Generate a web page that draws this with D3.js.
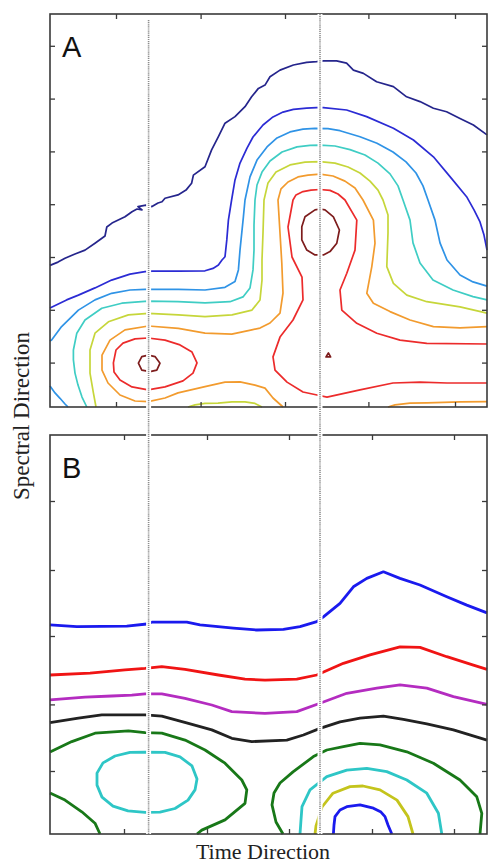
<!DOCTYPE html>
<html>
<head>
<meta charset="utf-8">
<script src="https://cdn.jsdelivr.net/npm/d3@7"></script>
<style>
  html, body { margin: 0; padding: 0; background: #fff; }
  svg { display: block; }
</style>
</head>
<body>
<svg id="chart"></svg>
<script>
// contour lines, as [time sample, spectral bin]

// ---- panel A ----
const navyA = [[0,47.2],[4,48.3],[7.5,49.6],[12.5,51],[17.5,52.3],[22.5,54.6],[27.5,57],[28.4,60],[31,61.3],[37.5,63.4],[41,65.1],[43.5,66],[46,65.7],[44,66.8],[48,67.3],[51,66.8],[54,68],[56,68.4],[57.5,69.6],[64,70.7],[68,72.3],[70.8,74.6],[71.7,77.3],[77.5,80.1],[80.8,85.7],[84.2,90.1],[87.5,94.6],[92.5,96.8],[97.5,100.1],[100.8,103.4],[104.2,106.2],[107.5,107.3],[110,110.1],[115,112.3],[121.7,114],[128.3,114.9],[133.3,115.1],[136.7,115.4],[143.3,115.4],[148.3,114.6],[151.7,112.3],[156.7,111.2],[163.3,108.4],[171.7,106.8],[178.3,103.4],[185,101.8],[191.7,99.6],[198.3,98.4],[205,96.2],[211.7,94],[218.5,90.7]];
const blueA = [[0,33],[8.3,35.7],[14.2,37.3],[22.5,39.7],[30.8,42.3],[40,44.3],[47.5,45.1],[51,45.3],[64.2,45.3],[77.5,45.4],[81.5,46.2],[84.2,47.3],[86,49],[87.5,50.1],[88.4,55.7],[89.2,62.3],[90.8,69],[92.5,75.7],[95,81.3],[98.5,86.3],[101.5,90],[106.5,94],[111.5,96.7],[116.5,98.3],[121.7,99.2],[128.3,99.6],[133.3,99.8],[136.7,99.8],[148.3,99],[158.3,96.8],[171.7,92.9],[181.7,89],[191.7,83.4],[200,76.8],[208.3,70.1],[212,65.7],[215,61.7],[217,57.3],[218.5,52.3]];
const skyA = [[0,22],[0.8,22.3],[5.8,26.8],[14.2,32.3],[22.5,35.7],[30.8,37.9],[40,39],[47.5,39.2],[64.2,39.2],[77.5,39],[87.5,39.9],[92.5,41.8],[94.2,45.7],[95,52.3],[96.7,63.4],[97.5,69],[100,76.7],[103.5,82.3],[108.5,86.7],[113.5,89.7],[120,91.7],[126.5,92.6],[132.5,92.9],[139,92.8],[145,92.1],[155,90.1],[163.5,87.9],[171.5,85],[178,81.7],[183,78],[186.5,73.7],[189,69],[192.5,62.3],[195,54.7],[198.5,49],[205,44],[211.5,41.7],[218.5,40.3]];
const skyCornerA = [[0,7],[2.5,4.7],[5,2.9],[7.5,1],[9,0]];
const cyanA = [[18.4,0],[16,3.3],[14,7.3],[12.5,11.3],[11.7,15.7],[11.7,19],[13.4,24.6],[17.5,29],[25.9,32.9],[35.9,34.6],[49,35.3],[64,35.1],[77.5,34.7],[90,35.1],[96.5,36.7],[100,39.7],[101.5,45.7],[102,52.3],[102,60.7],[102.5,69],[103.5,74],[106,78.3],[110,82],[116,85],[123.5,86.7],[130,87.2],[135,87.3],[142.5,87],[150,85.8],[157.5,84],[164,81.3],[170,77.7],[174,73.7],[176.5,69],[180,62.3],[181.5,54.7],[185,48],[191.5,42.3],[201.5,39],[211.5,36.8],[218.5,35.7]];
const yellowA = [[23,0],[21.7,4.7],[20,11.3],[20,19],[22.5,24.6],[29.2,28.4],[39.2,30.7],[49.2,31.2],[64.2,30.7],[77.5,30.1],[91,30.7],[101,32.3],[105,35.7],[106,42.3],[106,49],[106.5,58],[107,69],[109,74.7],[113,78.3],[120,80.7],[127.5,81.6],[135,81.8],[142.5,81.3],[149,80],[155,78],[160,75.3],[164,72.3],[166.5,69],[169,64],[169,58],[168.4,46.8],[171.7,41.2],[178.4,37.3],[188.4,35.1],[205,33.4],[218.5,31.3]];
const yellowBottomA = [[69,0],[72.5,0.7],[77.5,1.2],[84,1.3],[91,1.7],[97.5,1.7],[102.5,1.2],[106,0]];
const orangeA = [[218.5,26.8],[205,26.4],[191.7,26.8],[180,29],[170,31.8],[161.7,34.6],[158.4,37.9],[160.9,46.8],[162.5,54.6],[161.7,62.3],[156.5,69],[152.5,73],[147.5,75.3],[141.5,77],[135,77.6],[129,77.3],[124,76.7],[119,75],[115.5,72.7],[114,69],[115,58],[115.9,48],[116.5,38],[115,31.3],[110,28],[105,26.3],[100.9,25.7],[90.9,24.3],[77.5,24.6],[64.2,26.2],[49.2,27],[37.5,25.7],[30,22.3],[26,17.3],[26,12.3],[29,8],[35,4],[42.5,2],[49.2,1.8],[57.5,3],[64,4.7],[77.5,6.8],[87.5,8.3],[95,8.4],[102.5,7.3],[107.5,6.3],[111.5,3],[116.5,0]];
const orangeBottomA = [[169,0],[172.5,0.7],[180,1.3],[188.5,1.4],[205,1.7],[218.5,1.8]];
const redA = [[218.5,21],[188.4,21.2],[175,22.3],[163.4,24.6],[153.4,27.9],[145.9,32.3],[145,39],[148.4,44.6],[152.5,52.3],[153.4,62.3],[147.5,69],[144,71],[140,72.2],[135,72.5],[130.5,72.3],[126.5,71.8],[123,70.7],[121.5,69],[119,60],[121,50],[126,43.3],[126.5,35.7],[121.5,29],[115,23.3],[111.5,16.7],[112.5,12.3],[118.5,8.3],[126.5,5],[133.5,4],[138.5,3.3],[155,5.7],[171.5,8],[185,8.3],[198.5,8],[218.5,8]];
const redLoopA = [[31.7,14.7],[33,19],[36.5,21.3],[42.5,22.7],[49,23],[57.5,22.3],[65,20.7],[71,18.3],[73.5,14.7],[71.5,11.3],[66.5,8.7],[57.5,6.7],[49,5.7],[41,6.7],[35,9],[32,11.7]];
const maroonLeftA = [[44.2,14.6],[45.9,16.8],[49.2,17.3],[52.5,16.8],[55,14.6],[53.4,12.3],[50,11.8],[45.9,12.3]];
const maroonRightA = [[135,66],[137.5,65.7],[141.7,63.4],[144.7,59],[143.4,54.6],[140,51.8],[136.7,50.7],[132.5,50.7],[128.4,52.3],[125.9,55.7],[125.9,60.1],[127.5,63.4],[132.5,65.7]];
const maroonDotA = [[138,16.7],[139.2,18],[140.3,16.7]];

// ---- panel B ----
const blueTopB = [[0,69.7],[13.4,69.1],[38.4,69.3],[48.4,70],[50.9,70.6],[68.4,70.6],[75,69.7],[91.7,68.6],[103.4,68],[116.7,68.2],[125,69.1],[133.4,70.8],[136.7,72.4],[145,76.9],[151.7,82.4],[158.4,85.2],[166.7,87.4],[175,85.2],[185,83],[198.4,79.1],[208.4,76.3],[218.5,73.7]];
const redB = [[0,53],[20,53.6],[37.5,54.7],[47.5,55.2],[55.9,55.8],[67.5,54.9],[84.2,53],[97.5,51.6],[107.5,51.3],[123.4,51.6],[133.4,53],[146.7,56.9],[160,59.7],[175,62.4],[185,62.2],[198.4,59.1],[211.7,56.3],[218.5,54.9]];
const magentaB = [[0,44.7],[17.5,45.6],[30.9,46],[40.9,46.3],[47.5,46.7],[55.9,46.7],[67.5,45.2],[80.9,43],[90.9,40.8],[107.5,40.2],[123.4,40.8],[135,43.6],[148.4,46.9],[163.4,48.6],[175,49.7],[188.4,48.6],[201.7,45.8],[218.5,43.2]];
const blackB = [[0,37.1],[14.2,38.6],[25.9,39.7],[47.5,39.7],[55.9,39.3],[69.2,36.9],[80.9,34.7],[90.9,31.9],[100.9,30.8],[118.4,31.3],[126.7,33],[135,35.2],[145,37.4],[155,38.6],[166.7,39.3],[176.7,38.2],[188.4,36.7],[201.7,34.7],[218.5,31.3]];
const greenLeftB = [[0,27.3],[10.9,30.8],[22.5,33.6],[39.2,34.4],[47.5,33.8],[55.9,33.6],[67.5,31.3],[77.5,28],[87.5,23.6],[95.9,18],[98.4,14.7],[97.5,10.2],[87.5,4.7],[75.9,1.3],[73.5,0]];
const greenCornerB = [[0,13.7],[7.5,11.3],[15.9,7.4],[22.5,3.6],[25,0]];
const greenRightB = [[116.5,0],[113,4],[111,9.7],[112,13.7],[115,17],[121.5,20.7],[131.7,25.8],[138.4,28],[146.7,29.1],[155,30.2],[165,29.7],[178.4,27.4],[191.7,23.6],[205,18],[213.4,12.4],[215.9,6.9],[215,0]];
const cyanLoopB = [[47.5,27.3],[57.5,27.2],[65,25.7],[71,22.7],[73.5,18.3],[72.5,14.7],[69,11.3],[62.5,8.5],[55,7.3],[47.5,7.2],[39,7.7],[31.5,9.3],[26,12.3],[23.5,16.3],[23.5,20.3],[26.5,23.7],[32.5,26],[40,27.2]];
const cyanRightB = [[125,0],[125.5,4.7],[126,9.1],[130,14.7],[138.4,19.1],[148.4,21.3],[158.4,21.9],[168.4,20.8],[178.4,18],[188.4,13.6],[194.2,6.9],[195.9,0]];
const yellowB = [[132.5,0],[133,2.7],[136,9],[141.5,13.6],[150,15.8],[156.5,16],[165,14.7],[173.5,11.3],[179,5.8],[181.5,0]];
const blueInnerB = [[141.7,0],[142,3],[142.5,5.8],[145,8],[148.4,9.1],[155,9.7],[161.7,8.6],[165.5,7.3],[167.5,5.8],[169,3],[170.9,0]];

// ticks and markers
const ticksAx = [33, 75.3, 117.5, 159.2, 202.5];
const ticksAy = [14.8, 32.4, 50, 67.6, 85.2, 102.8, 120.4];
const ticksBx = [37, 78.5, 119.5, 161, 202];
const ticksBy = [21, 43.2, 66, 88, 111];
const markerTimes = [49.3, 135];
const markerTops = [129, 131];

const W = 489, H = 866;
const svg = d3.select("#chart").attr("width", W).attr("height", H);

const x = d3.scaleLinear().domain([0, 218.5]).range([50, 487]);
const yA = d3.scaleLinear().domain([0, 131]).range([407, 14]);
const yB = d3.scaleLinear().domain([0, 133]).range([834, 435]);

const seriesA = [
  { pts: navyA, color: "#25258c" },
  { pts: blueA, color: "#2b2bd4" },
  { pts: skyA, color: "#2f93e6" },
  { pts: skyCornerA, color: "#2f93e6" },
  { pts: cyanA, color: "#3fcdc4" },
  { pts: yellowA, color: "#c6d63a" },
  { pts: yellowBottomA, color: "#c6d63a" },
  { pts: orangeA, color: "#f29b2e" },
  { pts: orangeBottomA, color: "#f29b2e" },
  { pts: redA, color: "#ec2b2b" },
  { pts: redLoopA, color: "#ec2b2b", closed: true },
  { pts: maroonLeftA, color: "#7d1c1c", closed: true },
  { pts: maroonRightA, color: "#7d1c1c", closed: true },
  { pts: maroonDotA, color: "#7d1c1c", closed: true }
];

const seriesB = [
  { pts: blueTopB, color: "#1a1aee" },
  { pts: redB, color: "#f01414" },
  { pts: magentaB, color: "#b42cc0" },
  { pts: blackB, color: "#222222" },
  { pts: greenLeftB, color: "#187818" },
  { pts: greenCornerB, color: "#187818" },
  { pts: greenRightB, color: "#187818" },
  { pts: cyanLoopB, color: "#2ec6c6", closed: true },
  { pts: cyanRightB, color: "#2ec6c6" },
  { pts: yellowB, color: "#c4c41c" },
  { pts: blueInnerB, color: "#1a1aee" }
];

function panel(y, series, xt, yt, width, label) {
  const g = svg.append("g");
  const ln = d3.line().x(d => x(d[0])).y(d => y(d[1]));
  const lnClosed = d3.line().x(d => x(d[0])).y(d => y(d[1])).curve(d3.curveLinearClosed);

  g.selectAll("path.contour")
    .data(series)
    .join("path")
    .attr("class", "contour")
    .attr("d", s => s.closed ? lnClosed(s.pts) : ln(s.pts))
    .attr("fill", "none")
    .attr("stroke", s => s.color)
    .attr("stroke-width", width)
    .attr("stroke-linejoin", "round");

  const x0 = x.range()[0], x1 = x.range()[1];
  const yb = y.range()[0], yt0 = y.range()[1];

  g.append("rect")
    .attr("x", x0).attr("y", yt0)
    .attr("width", x1 - x0).attr("height", yb - yt0)
    .attr("fill", "none")
    .attr("stroke", "#3a3a3a")
    .attr("stroke-width", 1.6);

  const tidy = a => { a.select(".domain").remove(); a.attr("color", "#3a3a3a"); a.selectAll("line").attr("stroke-width", 1.3); };

  g.append("g").attr("transform", `translate(0,${yb})`)
    .call(d3.axisBottom(x).tickValues(xt).tickSize(-5).tickFormat("")).call(tidy);
  g.append("g").attr("transform", `translate(0,${yt0})`)
    .call(d3.axisTop(x).tickValues(xt).tickSize(-5).tickFormat("")).call(tidy);
  g.append("g").attr("transform", `translate(${x0},0)`)
    .call(d3.axisLeft(y).tickValues(yt).tickSize(-5).tickFormat("")).call(tidy);
  g.append("g").attr("transform", `translate(${x1},0)`)
    .call(d3.axisRight(y).tickValues(yt).tickSize(-5).tickFormat("")).call(tidy);

  g.append("text")
    .attr("x", x0 + 12)
    .attr("y", yt0 + 43)
    .style("font-family", "'Liberation Sans', Arial, sans-serif")
    .style("font-size", "29px")
    .attr("fill", "#111")
    .text(label);
}

panel(yA, seriesA, ticksAx, ticksAy, 1.7, "A");
panel(yB, seriesB, ticksBx, ticksBy, 2.8, "B");

// dotted time markers running through both panels
const markers = svg.append("g");
markerTimes.forEach((t, i) => {
  markers.append("line")
    .attr("x1", x(t)).attr("x2", x(t))
    .attr("y1", yA(markerTops[i])).attr("y2", yB(0))
    .attr("stroke", "#fff")
    .attr("stroke-width", 5);
  markers.append("line")
    .attr("x1", x(t)).attr("x2", x(t))
    .attr("y1", yA(markerTops[i])).attr("y2", yB(0))
    .attr("stroke", "#8c8c8c")
    .attr("stroke-width", 1.6)
    .attr("stroke-dasharray", "1.2,0.9");
});

// axis titles
svg.append("text")
  .attr("transform", "translate(29,416) rotate(-90)")
  .attr("text-anchor", "middle")
  .style("font-family", "'Liberation Serif', 'Times New Roman', serif")
  .style("font-size", "23px")
  .attr("fill", "#222")
  .text("Spectral Direction");

svg.append("text")
  .attr("x", 263)
  .attr("y", 859)
  .attr("text-anchor", "middle")
  .style("font-family", "'Liberation Serif', 'Times New Roman', serif")
  .style("font-size", "22px")
  .attr("fill", "#222")
  .text("Time Direction");
</script>
</body>
</html>
